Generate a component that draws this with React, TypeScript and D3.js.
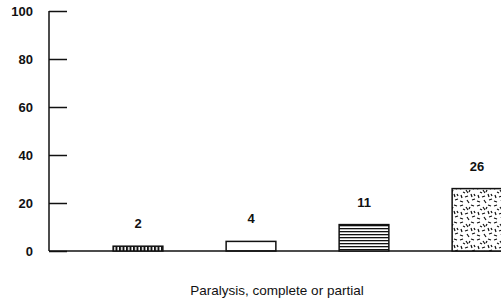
import { useEffect, useRef } from "react";
import * as d3 from "d3";

const categories = ["a", "b", "c", "d"];
const values = [2, 4, 11, 26];
const patterns = ["vstripe", "blank", "hstripe", "speckle"];
const yTicks = [0, 20, 40, 60, 80, 100];
const xTitle = "Paralysis, complete or partial";

// dash strokes for the speckled fill (one tile)
const speckle: [number, number, number, number][] = [
  [1, 2, 4, 1], [7, 3, 9, 6], [12, 1, 15, 2], [2, 8, 3, 11], [6, 10, 9, 9],
  [12, 7, 13, 10], [1, 14, 4, 15], [8, 13, 10, 16], [13, 13, 16, 12],
  [4, 5, 6, 6], [10, 5, 11, 3], [15, 7, 16, 9],
];

export default function App() {
  const svgRef = useRef<SVGSVGElement>(null);
  const width = 501;
  const height = 303;

  useEffect(() => {
    if (!svgRef.current) return;
    const svg = d3.select(svgRef.current);
    svg.selectAll("*").remove();

    const defs = svg.append("defs");
    const vs = defs.append("pattern").attr("id", "vstripe").attr("patternUnits", "userSpaceOnUse")
      .attr("width", 3.5).attr("height", 10);
    vs.append("rect").attr("width", 3.5).attr("height", 10).attr("fill", "#fff");
    vs.append("rect").attr("x", 0).attr("width", 2).attr("height", 10).attr("fill", "#111");

    const hs = defs.append("pattern").attr("id", "hstripe").attr("patternUnits", "userSpaceOnUse")
      .attr("width", 10).attr("height", 3);
    hs.append("rect").attr("width", 10).attr("height", 3).attr("fill", "#fff");
    hs.append("rect").attr("y", 0).attr("width", 10).attr("height", 1.3).attr("fill", "#111");

    const sp = defs.append("pattern").attr("id", "speckle").attr("patternUnits", "userSpaceOnUse")
      .attr("width", 17).attr("height", 17);
    sp.append("rect").attr("width", 17).attr("height", 17).attr("fill", "#fff");
    sp.selectAll("line").data(speckle).enter().append("line")
      .attr("x1", (d) => d[0]).attr("y1", (d) => d[1])
      .attr("x2", (d) => d[2]).attr("y2", (d) => d[3])
      .attr("stroke", "#111").attr("stroke-width", 1.2);

    const axisX = 49;
    const font = "Liberation Sans, Arial, sans-serif";
    const y = d3.scaleLinear().domain([0, 100]).range([251, 11]);
    const x = d3.scaleBand().domain(categories).range([81.5, 533.5])
      .paddingInner(0.56).paddingOuter(0.28);

    // y axis
    const ay = svg.append("g").attr("transform", `translate(${axisX},0)`)
      .call(d3.axisRight(y).tickValues(yTicks).tickSize(18).tickFormat(() => ""));
    ay.select(".domain").remove();
    ay.selectAll(".tick line").attr("stroke", "#111").attr("stroke-width", 1.5);

    svg.append("line").attr("x1", axisX).attr("x2", axisX)
      .attr("y1", y(100)).attr("y2", y(0)).attr("stroke", "#111").attr("stroke-width", 1.5);
    svg.append("line").attr("x1", axisX).attr("x2", width)
      .attr("y1", y(0)).attr("y2", y(0)).attr("stroke", "#111").attr("stroke-width", 1.5);

    svg.append("g").selectAll("text").data(yTicks).enter().append("text")
      .attr("x", 33).attr("y", (d) => y(d)).attr("dy", "0.36em")
      .attr("text-anchor", "end").attr("font-family", font)
      .attr("font-size", 13).attr("font-weight", "bold").attr("fill", "#111")
      .text((d) => d);

    // bars
    svg.append("g").selectAll("rect").data(values).enter().append("rect")
      .attr("x", (_, i) => x(categories[i])!)
      .attr("width", x.bandwidth())
      .attr("y", (d) => y(d))
      .attr("height", (d) => y(0) - y(d))
      .attr("fill", (_, i) => `url(#${patterns[i]})`)
      .attr("stroke", "#111").attr("stroke-width", 1.5);

    svg.append("g").selectAll("text").data(values).enter().append("text")
      .attr("x", (_, i) => x(categories[i])! + x.bandwidth() / 2)
      .attr("y", (d) => y(d) - 18)
      .attr("text-anchor", "middle").attr("font-family", font)
      .attr("font-size", 13).attr("font-weight", "bold").attr("fill", "#111")
      .text((d) => d);

    svg.append("text").attr("x", 277).attr("y", 295)
      .attr("text-anchor", "middle").attr("font-family", font)
      .attr("font-size", 13.5).attr("fill", "#111")
      .text(xTitle);
  }, []);

  return (
    <svg ref={svgRef} width={width} height={height}
      style={{ position: "absolute", left: 0, top: 0, background: "#fff" }} />
  );
}
